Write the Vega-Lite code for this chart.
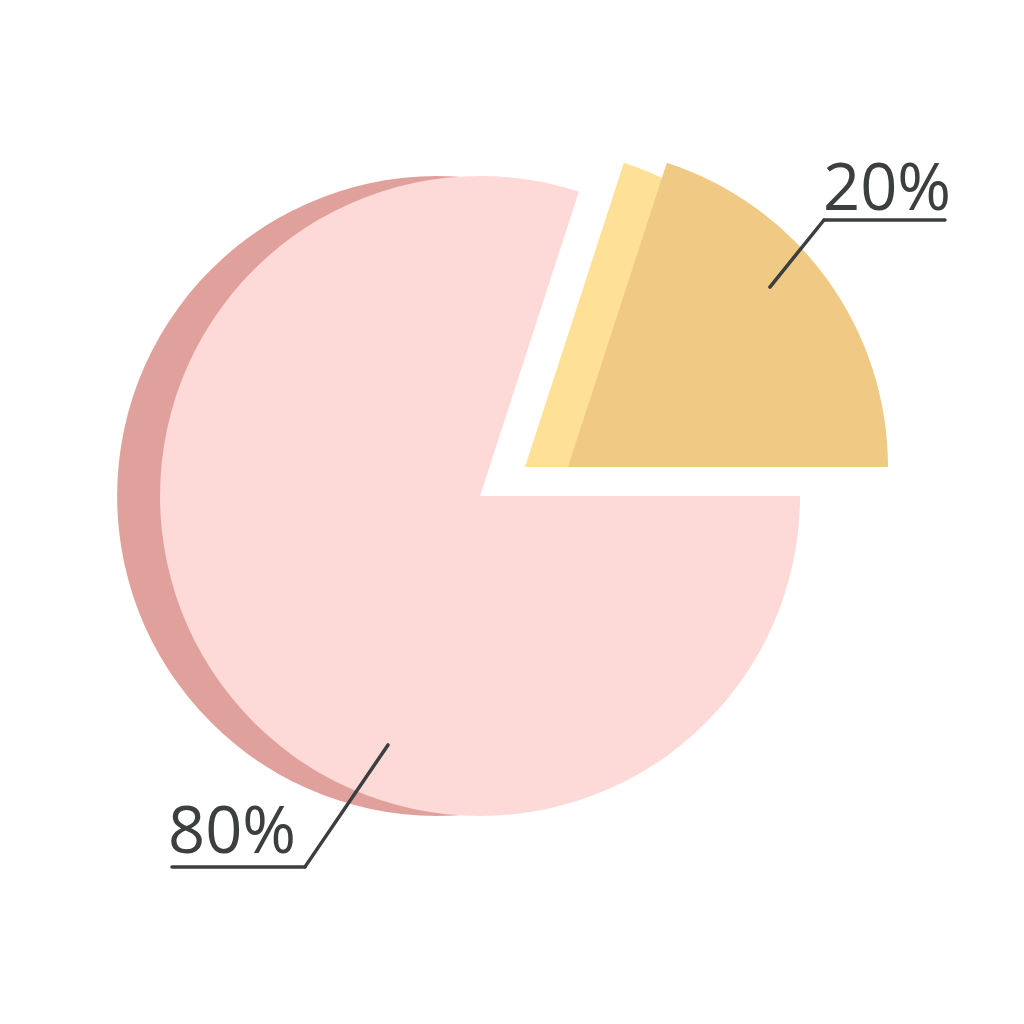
{
  "$schema": "https://vega.github.io/schema/vega-lite/v6.json",
  "width": 1024,
  "height": 1024,
  "padding": 0,
  "autosize": {"type": "fit", "contains": "padding"},
  "background": "white",
  "config": {"view": {"stroke": null}},
  "data": {"values": [
    {"label": "80%", "value": 80, "idx": 1},
    {"label": "20%", "value": 20, "idx": 2}
  ]},
  "layer": [
    {
      "mark": {"type": "arc", "outerRadius": 320, "color": "#e0a19c"},
      "encoding": {
        "theta": {"field": "value", "type": "quantitative", "stack": true, "scale": {"range": [1.5708, 7.854]}},
        "order": {"field": "idx"},
        "x": {"datum": -0.134, "type": "quantitative", "scale": {"domain": [-1.5, 1.7], "nice": false, "zero": false}, "axis": null},
        "y": {"datum": 0, "type": "quantitative", "scale": {"domain": [-1.65, 1.55], "nice": false, "zero": false}, "axis": null},
        "opacity": {"condition": {"test": "datum.label === '80%'", "value": 1}, "value": 0}
      }
    },
    {
      "mark": {"type": "arc", "outerRadius": 320, "color": "#fdd9d8"},
      "encoding": {
        "theta": {"field": "value", "type": "quantitative", "stack": true, "scale": {"range": [1.5708, 7.854]}},
        "order": {"field": "idx"},
        "x": {"datum": 0, "type": "quantitative", "scale": {"domain": [-1.5, 1.7], "nice": false, "zero": false}, "axis": null},
        "y": {"datum": 0, "type": "quantitative", "scale": {"domain": [-1.65, 1.55], "nice": false, "zero": false}, "axis": null},
        "opacity": {"condition": {"test": "datum.label === '80%'", "value": 1}, "value": 0}
      }
    },
    {
      "mark": {"type": "arc", "outerRadius": 320, "color": "#fee196"},
      "encoding": {
        "theta": {"field": "value", "type": "quantitative", "stack": true, "scale": {"range": [1.5708, 7.854]}},
        "order": {"field": "idx"},
        "x": {"datum": 0.1406, "type": "quantitative", "scale": {"domain": [-1.5, 1.7], "nice": false, "zero": false}, "axis": null},
        "y": {"datum": 0.0906, "type": "quantitative", "scale": {"domain": [-1.65, 1.55], "nice": false, "zero": false}, "axis": null},
        "opacity": {"condition": {"test": "datum.label === '20%'", "value": 1}, "value": 0}
      }
    },
    {
      "mark": {"type": "arc", "outerRadius": 320, "color": "#f0c984"},
      "encoding": {
        "theta": {"field": "value", "type": "quantitative", "stack": true, "scale": {"range": [1.5708, 7.854]}},
        "order": {"field": "idx"},
        "x": {"datum": 0.275, "type": "quantitative", "scale": {"domain": [-1.5, 1.7], "nice": false, "zero": false}, "axis": null},
        "y": {"datum": 0.0906, "type": "quantitative", "scale": {"domain": [-1.65, 1.55], "nice": false, "zero": false}, "axis": null},
        "opacity": {"condition": {"test": "datum.label === '20%'", "value": 1}, "value": 0}
      }
    },
    {
      "data": {"values": [{}]},
      "mark": {"type": "rule", "color": "#3b3f3f", "strokeWidth": 3.5, "strokeCap": "round"},
      "encoding": {
        "x": {"datum": 0.906, "type": "quantitative", "scale": {"domain": [-1.5, 1.7], "nice": false, "zero": false}, "axis": null},
        "y": {"datum": 0.653, "type": "quantitative", "scale": {"domain": [-1.65, 1.55], "nice": false, "zero": false}, "axis": null},
        "x2": {"datum": 1.075},
        "y2": {"datum": 0.8625}
      }
    },
    {
      "data": {"values": [{}]},
      "mark": {"type": "rule", "color": "#3b3f3f", "strokeWidth": 3.5, "strokeCap": "round"},
      "encoding": {
        "x": {"datum": 1.075, "type": "quantitative", "scale": {"domain": [-1.5, 1.7], "nice": false, "zero": false}, "axis": null},
        "y": {"datum": 0.8625, "type": "quantitative", "scale": {"domain": [-1.65, 1.55], "nice": false, "zero": false}, "axis": null},
        "x2": {"datum": 1.453},
        "y2": {"datum": 0.8625}
      }
    },
    {
      "data": {"values": [{}]},
      "mark": {"type": "rule", "color": "#3b3f3f", "strokeWidth": 3.5, "strokeCap": "round"},
      "encoding": {
        "x": {"datum": -0.2875, "type": "quantitative", "scale": {"domain": [-1.5, 1.7], "nice": false, "zero": false}, "axis": null},
        "y": {"datum": -0.778, "type": "quantitative", "scale": {"domain": [-1.65, 1.55], "nice": false, "zero": false}, "axis": null},
        "x2": {"datum": -0.547},
        "y2": {"datum": -1.159}
      }
    },
    {
      "data": {"values": [{}]},
      "mark": {"type": "rule", "color": "#3b3f3f", "strokeWidth": 3.5, "strokeCap": "round"},
      "encoding": {
        "x": {"datum": -0.547, "type": "quantitative", "scale": {"domain": [-1.5, 1.7], "nice": false, "zero": false}, "axis": null},
        "y": {"datum": -1.159, "type": "quantitative", "scale": {"domain": [-1.65, 1.55], "nice": false, "zero": false}, "axis": null},
        "x2": {"datum": -0.9625},
        "y2": {"datum": -1.159}
      }
    },
    {
      "transform": [{"filter": "datum.label === '20%'"}],
      "mark": {"type": "text", "font": "Open Sans", "fontSize": 65, "color": "#3b3f3f", "align": "left", "baseline": "alphabetic"},
      "encoding": {
        "text": {"field": "label"},
        "x": {"datum": 1.072, "type": "quantitative", "scale": {"domain": [-1.5, 1.7], "nice": false, "zero": false}, "axis": null},
        "y": {"datum": 0.894, "type": "quantitative", "scale": {"domain": [-1.65, 1.55], "nice": false, "zero": false}, "axis": null}
      }
    },
    {
      "transform": [{"filter": "datum.label === '80%'"}],
      "mark": {"type": "text", "font": "Open Sans", "fontSize": 65, "color": "#3b3f3f", "align": "left", "baseline": "alphabetic"},
      "encoding": {
        "text": {"field": "label"},
        "x": {"datum": -0.975, "type": "quantitative", "scale": {"domain": [-1.5, 1.7], "nice": false, "zero": false}, "axis": null},
        "y": {"datum": -1.116, "type": "quantitative", "scale": {"domain": [-1.65, 1.55], "nice": false, "zero": false}, "axis": null}
      }
    }
  ]
}
